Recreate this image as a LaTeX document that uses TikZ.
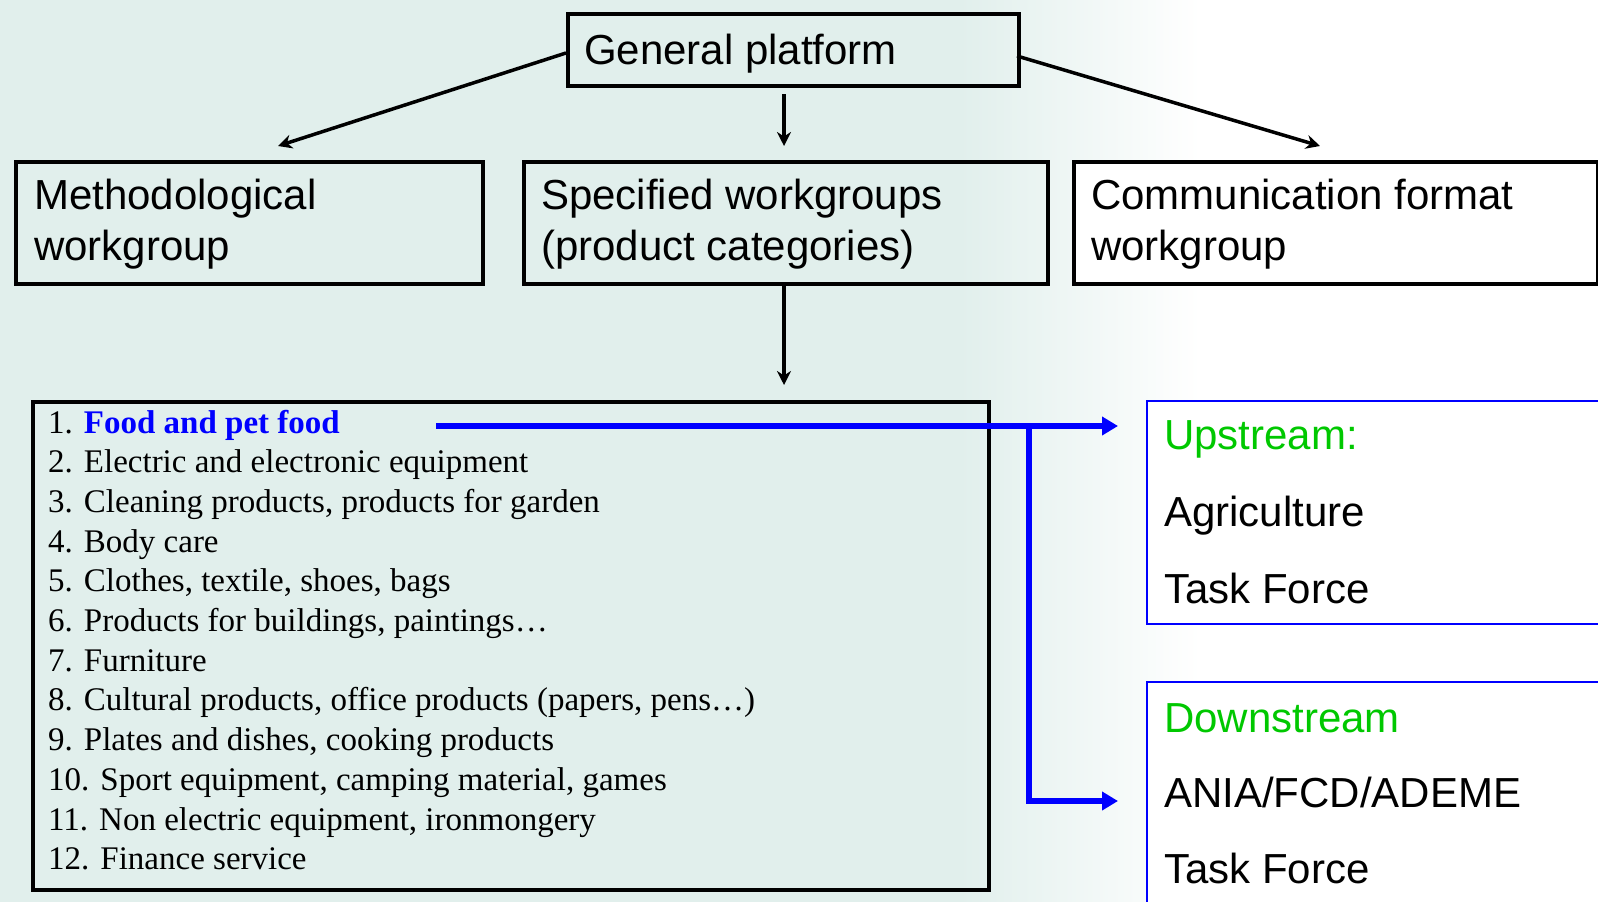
\documentclass[tikz,border=0pt]{standalone}
\usepackage{fontspec}
\setmainfont{Liberation Serif}
\newfontfamily\arialf{Liberation Sans}
\usetikzlibrary{arrows.meta}
\definecolor{bgmint}{RGB}{225,239,236}
\definecolor{upgreen}{RGB}{0,200,0}
\definecolor{linkblue}{RGB}{0,0,255}
\begin{document}
\begin{tikzpicture}[x=1pt,y=-1pt,
  box/.style={draw=black, line width=4pt, anchor=north west, inner sep=0pt},
  bluebox/.style={draw=linkblue, line width=1.5pt, anchor=north west, inner sep=0pt, fill=white},
  sanstext/.style={anchor=base west, inner sep=0pt, font=\arialf\fontsize{42}{50}\selectfont},
  listtext/.style={anchor=base west, inner sep=0pt, font=\fontsize{33}{40}\selectfont},
  blackarrow/.style={draw=black, line width=3.5pt, -{Stealth[length=14pt,width=14pt]}},
  bluearrow/.style={draw=linkblue, line width=5.5pt, -{Triangle[length=16pt,width=18pt]}}
]
\clip (0,0) rectangle (1598,902);
% background
\fill[bgmint] (0,0) rectangle (960,902);
\shade[left color=bgmint, right color=white] (959,0) rectangle (1200,902);
\fill[white] (1199,0) rectangle (1598,902);

% boxes
\node[box, minimum width=451pt, minimum height=72pt] (gp) at (566,12) {};
\node[box, minimum width=467pt, minimum height=122pt] (meth) at (14,160) {};
\node[box, minimum width=524pt, minimum height=122pt] (spec) at (522,160) {};
\node[box, fill=white, minimum width=524pt, minimum height=122pt] (comm) at (1072,160) {};
\node[box, minimum width=956pt, minimum height=488pt] (list) at (31,400) {};
\node[bluebox, minimum width=470pt, minimum height=223pt] (up) at (1146,400) {};
\node[bluebox, minimum width=470pt, minimum height=260pt] (down) at (1146,681) {};

% texts
\node[sanstext] (gpt) at (584,64) {General platform};
\node[sanstext] (metht1) at (34,209) {Methodological};
\node[sanstext] (metht2) at (34,260) {workgroup};
\node[sanstext] (spect1) at (541,209) {Specified workgroups};
\node[sanstext] (spect2) at (541,260) {(product categories)};
\node[sanstext] (commt1) at (1091,209) {Communication format};
\node[sanstext] (commt2) at (1091,260) {workgroup};
\node[sanstext, text=upgreen] (upt1) at (1164,449) {Upstream:};
\node[sanstext] (upt2) at (1164,526) {Agriculture};
\node[sanstext] (upt3) at (1164,603) {Task Force};
\node[sanstext, text=upgreen] (downt1) at (1164,732) {Downstream};
\node[sanstext] (downt2) at (1164,807) {ANIA/FCD/ADEME};
\node[sanstext] (downt3) at (1164,883) {Task Force};

\node[listtext] (i1) at (48,433.0) {1. \textcolor{linkblue}{\bfseries Food and pet food}};
\node[listtext] (i2) at (48,472.7) {2. Electric and electronic equipment};
\node[listtext] (i3) at (48,512.4) {3. Cleaning products, products for garden};
\node[listtext] (i4) at (48,552.1) {4. Body care};
\node[listtext] (i5) at (48,591.8) {5. Clothes, textile, shoes, bags};
\node[listtext] (i6) at (48,631.5) {6. Products for buildings, paintings\dots};
\node[listtext] (i7) at (48,671.2) {7. Furniture};
\node[listtext] (i8) at (48,710.9) {8. Cultural products, office products (papers, pens\dots)};
\node[listtext] (i9) at (48,750.6) {9. Plates and dishes, cooking products};
\node[listtext] (i10) at (48,790.3) {10. Sport equipment, camping material, games};
\node[listtext] (i11) at (48,830.0) {11. Non electric equipment, ironmongery};
\node[listtext] (i12) at (48,869.7) {12. Finance service};

% connector end points
\coordinate (gpL) at (566,53);
\coordinate (gpR) at (1017,56);
\coordinate (gpB) at (784,94);
\coordinate (methTip) at (278,146);
\coordinate (specTip) at (784,146);
\coordinate (commTip) at (1320,146);
\coordinate (specB) at (784,284);
\coordinate (listTip) at (784,385);
\coordinate (foodStart) at (436,426);
\coordinate (branch) at (1029,426);
\coordinate (upTip) at (1118,426);
\coordinate (downTip) at (1118,801);

% black arrows
\draw[blackarrow] (gpL) -- (methTip);
\draw[blackarrow] (gpB) -- (specTip);
\draw[blackarrow] (gpR) -- (commTip);
\draw[blackarrow] (specB) -- (listTip);

% blue arrows
\draw[bluearrow] (foodStart) -- (upTip);
\draw[bluearrow] (branch) |- (downTip);
\end{tikzpicture}
\end{document}
